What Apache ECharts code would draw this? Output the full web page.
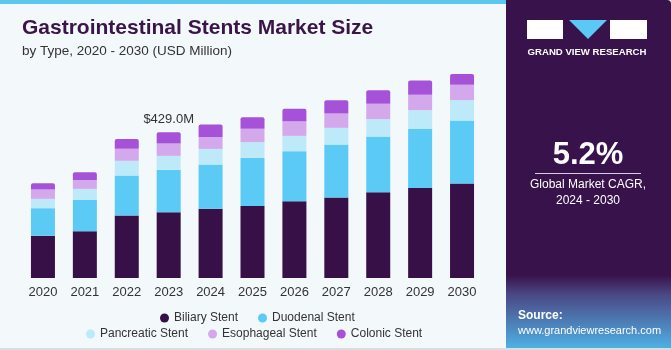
<!DOCTYPE html>
<html>
<head>
<meta charset="utf-8">
<script src="https://cdn.jsdelivr.net/npm/echarts@6/dist/echarts.min.js"></script>
<style>
  html, body { margin: 0; padding: 0; background: #f3f8fb; }
  #chart { width: 671px; height: 350px; }
</style>
</head>
<body>
<div id="chart"></div>
<script>
const years = ['2020', '2021', '2022', '2023', '2024', '2025', '2026', '2027', '2028', '2029', '2030'];
const biliary = [124.6, 137.5, 183.5, 193.4, 204.0, 212.0, 225.8, 236.4, 252.3, 265.0, 277.6];
const duodenal = [80.7, 92.2, 117.8, 124.6, 129.5, 141.3, 147.2, 156.0, 163.7, 173.7, 185.5];
const pancreatic = [27.4, 32.4, 43.3, 41.2, 46.2, 46.2, 45.0, 49.2, 51.2, 55.0, 60.0];
const esophageal = [27.4, 26.5, 35.3, 36.3, 35.3, 39.2, 43.3, 42.1, 45.0, 45.0, 45.0];
const colonic = [18.8, 22.7, 28.6, 33.5, 36.2, 34.4, 36.2, 39.4, 40.3, 42.1, 45.0];
const labelIndex = 3;
const labelText = '$429.0M';

const font = '"Liberation Sans", Arial, sans-serif';
const chart = echarts.init(document.getElementById('chart'));

function series(name, data, color, top) {
  return {
    name: name,
    type: 'bar',
    stack: 'total',
    barWidth: 24,
    data: top
      ? data.map((v, i) => i === labelIndex
          ? { value: v, label: { show: true, position: 'top', distance: 6, formatter: labelText,
              color: '#333', fontSize: 13, fontFamily: font } }
          : v)
      : data,
    itemStyle: { color: color, borderRadius: top ? [2, 2, 0, 0] : 0 },
    emphasis: { disabled: true }
  };
}

const legendStyle = {
  icon: 'circle',
  itemWidth: 9,
  itemHeight: 9,
  itemGap: 20,
  textStyle: { color: '#333', fontSize: 12, fontFamily: font }
};

chart.setOption({
  backgroundColor: '#f3f8fb',
  animation: false,
  title: [
    { text: 'Gastrointestinal Stents Market Size', left: 17, top: 13,
      textStyle: { color: '#3a1548', fontSize: 21, fontWeight: 'bold', fontFamily: font } },
    { text: 'by Type, 2020 - 2030 (USD Million)', left: 17, top: 39,
      textStyle: { color: '#333', fontSize: 13.5, fontWeight: 'normal', fontFamily: font } }
  ],
  legend: [
    Object.assign({ data: ['Biliary Stent', 'Duodenal Stent'], left: 155, top: 307 }, legendStyle),
    Object.assign({ data: ['Pancreatic Stent', 'Esophageal Stent', 'Colonic Stent'], left: 81, top: 323 }, legendStyle)
  ],
  grid: { left: 22, right: 188, top: 74, bottom: 72 },
  xAxis: {
    type: 'category',
    data: years,
    axisLine: { show: false },
    axisTick: { show: false },
    axisLabel: { color: '#333', fontSize: 13, fontFamily: font, margin: 8 }
  },
  yAxis: { type: 'value', min: 0, max: 600, show: false },
  series: [
    series('Biliary Stent', biliary, '#371047'),
    series('Duodenal Stent', duodenal, '#5bcbf6'),
    series('Pancreatic Stent', pancreatic, '#bde9f9'),
    series('Esophageal Stent', esophageal, '#d4a9ec'),
    series('Colonic Stent', colonic, '#a652d8', true)
  ],
  graphic: [
    { type: 'rect', left: 0, top: 0, shape: { width: 506, height: 4 }, style: { fill: '#5cc7ef' }, z: 10 },
    { type: 'rect', left: 506, top: 0, shape: { width: 165, height: 350, r: [0, 4, 0, 0] },
      style: { fill: '#38124a' }, z: 1 },
    { type: 'rect', left: 506, top: 275, shape: { width: 165, height: 75 },
      style: { fill: new echarts.graphic.LinearGradient(0, 0, 0, 1, [
        { offset: 0, color: 'rgba(56,18,74,1)' },
        { offset: 0.25, color: '#4a4683' },
        { offset: 1, color: '#4fb4e8' }
      ]) }, z: 2 },
    // logo
    { type: 'rect', left: 527, top: 20, shape: { width: 36, height: 19 }, style: { fill: '#fff' }, z: 3 },
    { type: 'polygon', shape: { points: [[569, 20], [607, 20], [588, 39]] }, style: { fill: '#5bc8f5' }, z: 3 },
    { type: 'rect', left: 610, top: 20, shape: { width: 37, height: 19 }, style: { fill: '#fff' }, z: 3 },
    { type: 'text', x: 587, y: 52, style: { text: 'GRAND VIEW RESEARCH', fill: '#fff', align: 'center',
      verticalAlign: 'middle', font: 'bold 9.6px ' + font }, z: 3 },
    { type: 'text', x: 588, y: 155, style: { text: '5.2%', fill: '#fff', align: 'center', verticalAlign: 'middle',
      font: 'bold 31px ' + font }, z: 3 },
    { type: 'rect', left: 535, top: 173, shape: { width: 106, height: 1 }, style: { fill: '#d8cce0' }, z: 3 },
    { type: 'text', x: 588, y: 185, style: { text: 'Global Market CAGR,', fill: '#fff', align: 'center',
      verticalAlign: 'middle', font: '12px ' + font }, z: 3 },
    { type: 'text', x: 588, y: 201, style: { text: '2024 - 2030', fill: '#fff', align: 'center',
      verticalAlign: 'middle', font: '12px ' + font }, z: 3 },
    { type: 'text', left: 518, top: 310, style: { text: 'Source:', fill: '#fff', font: 'bold 12px ' + font }, z: 3 },
    { type: 'text', left: 518, top: 325, style: { text: 'www.grandviewresearch.com', fill: '#fff',
      font: '11px ' + font }, z: 3 },
    { type: 'rect', left: 0, top: 348, shape: { width: 671, height: 2 }, style: { fill: '#d9dde0' }, z: 4 }
  ]
});
</script>
</body>
</html>
